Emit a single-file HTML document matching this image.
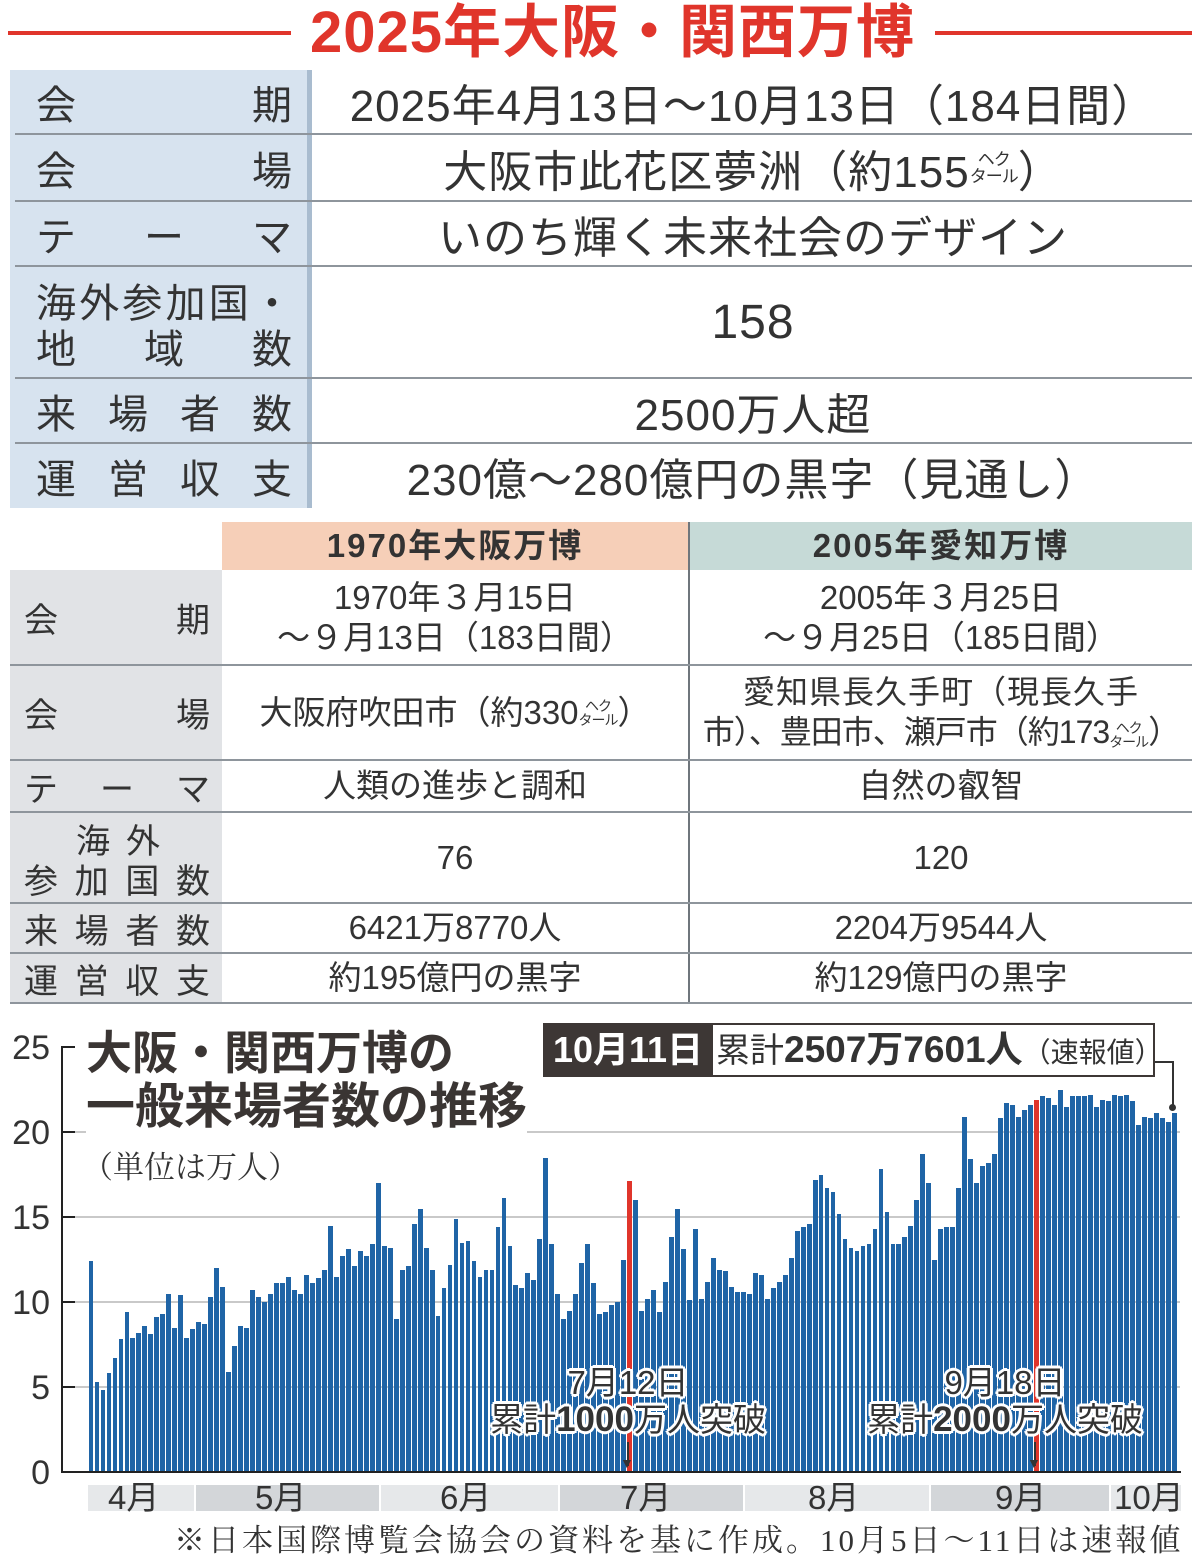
<!DOCTYPE html>
<html><head><meta charset="utf-8">
<style>
*{margin:0;padding:0;box-sizing:border-box}
body{width:1200px;height:1562px;position:relative;background:#fff;overflow:hidden;font-family:"Liberation Sans","Noto Sans CJK JP",sans-serif;color:#333}
.a{position:absolute}
.hl{position:absolute;height:2px;background:#8e959c}
.lab{position:absolute;display:flex;justify-content:space-between;align-items:center;font-size:40px;color:#333}
.val{position:absolute;text-align:center;font-size:44px;letter-spacing:1px;color:#333;display:flex;align-items:center;justify-content:center}
.lab2{position:absolute;display:flex;justify-content:space-between;align-items:center;font-size:34px;color:#333}
.v2{position:absolute;text-align:center;font-size:33px;color:#333;display:flex;align-items:center;justify-content:center;line-height:1.2}
.hec{display:inline-block;font-size:14px;line-height:1;vertical-align:middle;text-align:center;letter-spacing:-1px}
.bars{position:absolute;left:88px;top:1047px;width:1089px;height:425px;display:flex;align-items:flex-end}
.bars i{flex:1;margin:0 0.6px;background:#1f64a6;height:calc(var(--v)*17px);display:block}
.bars i.r{background:#e0352b}
.tk{position:absolute;left:0;width:50px;text-align:right;font-size:34px;color:#333;line-height:34px}
.ann{position:absolute;text-align:center;font-size:33px;color:#333;text-shadow:2px 0 0 #fff,-2px 0 0 #fff,0 2px 0 #fff,0 -2px 0 #fff,2px 2px 0 #fff,-2px -2px 0 #fff,2px -2px 0 #fff,-2px 2px 0 #fff,3px 0 0 #fff,-3px 0 0 #fff,0 3px 0 #fff,0 -3px 0 #fff;white-space:nowrap;line-height:1.1}
.mb{position:absolute;top:1485px;height:26px}
.ml{position:absolute;top:1478px;font-size:33px;color:#333;line-height:40px}
</style></head><body>

<div class="a" style="left:8px;top:31px;width:283px;height:4px;background:#e0352b"></div>
<div class="a" style="left:935px;top:31px;width:257px;height:4px;background:#e0352b"></div>
<div class="a" style="left:285px;top:0px;width:655px;text-align:center;font-size:58px;font-weight:bold;color:#e0352b;line-height:66px;letter-spacing:1px;white-space:nowrap">2025年大阪・関西万博</div>

<div class="a" style="left:10px;top:70px;width:300px;height:438px;background:#d7e3ef"></div>
<div class="a" style="left:307px;top:70px;width:5px;height:438px;background:#a9bccf"></div>
<div class="hl" style="left:15px;top:133px;width:1177px"></div>
<div class="hl" style="left:15px;top:200px;width:1177px"></div>
<div class="hl" style="left:15px;top:265px;width:1177px"></div>
<div class="hl" style="left:15px;top:377px;width:1177px"></div>
<div class="hl" style="left:15px;top:442px;width:1177px"></div>

<div class="lab" style="left:36px;top:70px;width:256px;height:64px"><span>会</span><span>期</span></div>
<div class="lab" style="left:36px;top:134px;width:256px;height:67px"><span>会</span><span>場</span></div>
<div class="lab" style="left:36px;top:201px;width:256px;height:65px"><span>テ</span><span>ー</span><span>マ</span></div>
<div class="lab" style="left:36px;top:278px;width:256px;height:44px"><span>海</span><span>外</span><span>参</span><span>加</span><span>国</span><span>・</span></div>
<div class="lab" style="left:36px;top:324px;width:256px;height:44px"><span>地</span><span>域</span><span>数</span></div>
<div class="lab" style="left:36px;top:378px;width:256px;height:65px"><span>来</span><span>場</span><span>者</span><span>数</span></div>
<div class="lab" style="left:36px;top:443px;width:256px;height:65px"><span>運</span><span>営</span><span>収</span><span>支</span></div>

<div class="val" style="left:314px;top:70px;width:878px;height:64px">2025年4月13日～10月13日（184日間）</div>
<div class="val" style="left:314px;top:134px;width:878px;height:67px">大阪市此花区夢洲（約155<span class="hec" style="font-size:17px">ヘク<br>タール</span>）</div>
<div class="val" style="left:314px;top:201px;width:878px;height:65px">いのち輝く未来社会のデザイン</div>
<div class="val" style="left:314px;top:266px;width:878px;height:112px;font-size:48px">158</div>
<div class="val" style="left:314px;top:378px;width:878px;height:65px">2500万人超</div>
<div class="val" style="left:314px;top:443px;width:878px;height:65px">230億～280億円の黒字（見通し）</div>

<div class="a" style="left:222px;top:522px;width:466px;height:48px;background:#f6cfb8"></div>
<div class="a" style="left:690px;top:522px;width:502px;height:48px;background:#c6dad7"></div>
<div class="a" style="left:222px;top:522px;width:466px;height:48px;text-align:center;font-size:33px;font-weight:bold;line-height:48px;letter-spacing:2px">1970年大阪万博</div>
<div class="a" style="left:690px;top:522px;width:502px;height:48px;text-align:center;font-size:33px;font-weight:bold;line-height:48px;letter-spacing:2px">2005年愛知万博</div>
<div class="a" style="left:10px;top:570px;width:212px;height:433px;background:#e1e3e6"></div>
<div class="a" style="left:688px;top:522px;width:2px;height:481px;background:#6f767c"></div>
<div class="hl" style="left:10px;top:664px;width:1182px"></div>
<div class="hl" style="left:10px;top:759px;width:1182px"></div>
<div class="hl" style="left:10px;top:811px;width:1182px"></div>
<div class="hl" style="left:10px;top:902px;width:1182px"></div>
<div class="hl" style="left:10px;top:952px;width:1182px"></div>
<div class="hl" style="left:10px;top:1002px;width:1182px"></div>

<div class="lab2" style="left:24px;top:570px;width:186px;height:95px"><span>会</span><span>期</span></div>
<div class="lab2" style="left:24px;top:665px;width:186px;height:95px"><span>会</span><span>場</span></div>
<div class="lab2" style="left:24px;top:760px;width:186px;height:52px"><span>テ</span><span>ー</span><span>マ</span></div>
<div class="lab2" style="left:76px;top:818px;width:84px;height:40px"><span>海</span><span>外</span></div>
<div class="lab2" style="left:24px;top:858px;width:186px;height:40px"><span>参</span><span>加</span><span>国</span><span>数</span></div>
<div class="lab2" style="left:24px;top:903px;width:186px;height:50px"><span>来</span><span>場</span><span>者</span><span>数</span></div>
<div class="lab2" style="left:24px;top:953px;width:186px;height:50px"><span>運</span><span>営</span><span>収</span><span>支</span></div>

<div class="v2" style="left:222px;top:572px;width:466px;height:92px">1970年３月15日<br>～９月13日（183日間）</div>
<div class="v2" style="left:222px;top:665px;width:466px;height:95px">大阪府吹田市（約330<span class="hec">ヘク<br>タール</span>）</div>
<div class="v2" style="left:222px;top:760px;width:466px;height:52px">人類の進歩と調和</div>
<div class="v2" style="left:222px;top:812px;width:466px;height:91px">76</div>
<div class="v2" style="left:222px;top:903px;width:466px;height:50px">6421万8770人</div>
<div class="v2" style="left:222px;top:953px;width:466px;height:50px">約195億円の黒字</div>

<div class="v2" style="left:690px;top:572px;width:502px;height:92px">2005年３月25日<br>～９月25日（185日間）</div>
<div class="a" style="left:690px;top:672px;width:502px;text-align:center;font-size:32px;line-height:40px;white-space:nowrap;letter-spacing:1px">愛知県長久手町（現長久手</div>
<div class="a" style="left:690px;top:712px;width:502px;text-align:center;font-size:32px;line-height:40px;white-space:nowrap;letter-spacing:-1px">市）、豊田市、瀬戸市（約173<span class="hec">ヘク<br>タール</span>）</div>
<div class="v2" style="left:690px;top:760px;width:502px;height:52px">自然の叡智</div>
<div class="v2" style="left:690px;top:812px;width:502px;height:91px">120</div>
<div class="v2" style="left:690px;top:903px;width:502px;height:50px">2204万9544人</div>
<div class="v2" style="left:690px;top:953px;width:502px;height:50px">約129億円の黒字</div>

<div class="a" style="left:62px;top:1131px;width:1118px;height:2px;background:#c9c9c9"></div>
<div class="a" style="left:62px;top:1216px;width:1118px;height:2px;background:#c9c9c9"></div>
<div class="a" style="left:62px;top:1301px;width:1118px;height:2px;background:#c9c9c9"></div>
<div class="a" style="left:62px;top:1386px;width:1118px;height:2px;background:#c9c9c9"></div>

<div class="bars">
<i style="--v:12.4"></i><i style="--v:5.3"></i><i style="--v:4.8"></i><i style="--v:5.8"></i><i style="--v:6.7"></i><i style="--v:7.8"></i><i style="--v:9.4"></i><i style="--v:7.9"></i><i style="--v:8.2"></i><i style="--v:8.6"></i>
<i style="--v:8.1"></i><i style="--v:9.1"></i><i style="--v:9.3"></i><i style="--v:10.5"></i><i style="--v:8.5"></i><i style="--v:10.4"></i><i style="--v:7.9"></i><i style="--v:8.4"></i><i style="--v:8.8"></i><i style="--v:8.7"></i>
<i style="--v:10.3"></i><i style="--v:12.0"></i><i style="--v:10.9"></i><i style="--v:5.9"></i><i style="--v:7.4"></i><i style="--v:8.6"></i><i style="--v:8.5"></i><i style="--v:10.7"></i><i style="--v:10.3"></i><i style="--v:10.0"></i>
<i style="--v:10.5"></i><i style="--v:11.1"></i><i style="--v:11.1"></i><i style="--v:11.5"></i><i style="--v:10.7"></i><i style="--v:10.5"></i><i style="--v:11.6"></i><i style="--v:11.1"></i><i style="--v:11.4"></i><i style="--v:11.9"></i>
<i style="--v:14.5"></i><i style="--v:11.5"></i><i style="--v:12.7"></i><i style="--v:13.1"></i><i style="--v:12.1"></i><i style="--v:13.0"></i><i style="--v:12.7"></i><i style="--v:13.4"></i><i style="--v:17.0"></i><i style="--v:13.3"></i>
<i style="--v:13.2"></i><i style="--v:9.0"></i><i style="--v:11.9"></i><i style="--v:12.1"></i><i style="--v:14.6"></i><i style="--v:15.5"></i><i style="--v:13.2"></i><i style="--v:11.9"></i><i style="--v:9.2"></i>
<i style="--v:10.8"></i><i style="--v:12.2"></i><i style="--v:14.9"></i><i style="--v:13.5"></i><i style="--v:13.6"></i><i style="--v:12.4"></i><i style="--v:11.5"></i><i style="--v:11.9"></i><i style="--v:11.9"></i><i style="--v:14.4"></i>
<i style="--v:16.1"></i><i style="--v:13.3"></i><i style="--v:11.0"></i><i style="--v:10.8"></i><i style="--v:11.7"></i><i style="--v:11.3"></i><i style="--v:13.7"></i><i style="--v:18.5"></i><i style="--v:13.4"></i><i style="--v:10.5"></i>
<i style="--v:9.0"></i><i style="--v:9.5"></i><i style="--v:10.5"></i><i style="--v:12.3"></i><i style="--v:13.4"></i><i style="--v:11.1"></i><i style="--v:9.3"></i><i style="--v:9.4"></i><i style="--v:9.8"></i><i style="--v:10.0"></i>
<i style="--v:12.5"></i><i class="r" style="--v:17.1"></i>
<i style="--v:16.0"></i><i style="--v:9.5"></i><i style="--v:10.2"></i><i style="--v:10.7"></i><i style="--v:9.4"></i><i style="--v:11.2"></i><i style="--v:13.8"></i><i style="--v:15.5"></i><i style="--v:13.1"></i><i style="--v:10.1"></i>
<i style="--v:14.3"></i><i style="--v:10.2"></i><i style="--v:11.2"></i><i style="--v:12.6"></i><i style="--v:11.9"></i><i style="--v:11.8"></i><i style="--v:10.9"></i><i style="--v:10.6"></i><i style="--v:10.6"></i><i style="--v:10.5"></i>
<i style="--v:11.7"></i><i style="--v:11.6"></i><i style="--v:10.2"></i><i style="--v:10.8"></i><i style="--v:11.2"></i><i style="--v:11.6"></i><i style="--v:12.6"></i><i style="--v:14.2"></i>
<i style="--v:14.4"></i><i style="--v:14.6"></i><i style="--v:17.2"></i><i style="--v:17.5"></i><i style="--v:16.7"></i><i style="--v:16.5"></i><i style="--v:15.2"></i><i style="--v:13.7"></i><i style="--v:13.2"></i><i style="--v:13.0"></i>
<i style="--v:13.3"></i><i style="--v:13.4"></i><i style="--v:14.3"></i><i style="--v:17.8"></i><i style="--v:15.3"></i><i style="--v:13.4"></i><i style="--v:13.4"></i><i style="--v:13.8"></i><i style="--v:14.5"></i><i style="--v:16.0"></i>
<i style="--v:18.7"></i><i style="--v:17.0"></i><i style="--v:12.5"></i><i style="--v:14.3"></i><i style="--v:14.4"></i><i style="--v:14.4"></i><i style="--v:16.7"></i><i style="--v:20.9"></i><i style="--v:18.4"></i><i style="--v:17.0"></i>
<i style="--v:18.0"></i><i style="--v:18.2"></i><i style="--v:18.7"></i><i style="--v:20.8"></i><i style="--v:21.7"></i><i style="--v:21.6"></i><i style="--v:20.9"></i><i style="--v:21.3"></i><i style="--v:21.6"></i><i class="r" style="--v:21.9"></i>
<i style="--v:22.1"></i><i style="--v:22.0"></i><i style="--v:21.6"></i><i style="--v:22.5"></i><i style="--v:21.5"></i><i style="--v:22.1"></i><i style="--v:22.1"></i><i style="--v:22.1"></i><i style="--v:22.2"></i><i style="--v:21.5"></i>
<i style="--v:21.9"></i><i style="--v:21.8"></i><i style="--v:22.2"></i><i style="--v:22.1"></i><i style="--v:22.2"></i><i style="--v:21.8"></i><i style="--v:20.4"></i><i style="--v:20.9"></i><i style="--v:20.8"></i><i style="--v:21.1"></i>
<i style="--v:20.8"></i><i style="--v:20.6"></i><i style="--v:21.1"></i>
</div>

<div class="a" style="left:61px;top:1047px;width:2px;height:426px;background:#222"></div>
<div class="a" style="left:61px;top:1471px;width:1120px;height:2px;background:#222"></div>
<div class="a" style="left:61px;top:1046px;width:14px;height:2px;background:#222"></div>
<div class="a" style="left:61px;top:1131px;width:14px;height:2px;background:#222"></div>
<div class="a" style="left:61px;top:1216px;width:14px;height:2px;background:#222"></div>
<div class="a" style="left:61px;top:1301px;width:14px;height:2px;background:#222"></div>
<div class="a" style="left:61px;top:1386px;width:14px;height:2px;background:#222"></div>

<div class="tk" style="top:1031px">25</div>
<div class="tk" style="top:1116px">20</div>
<div class="tk" style="top:1201px">15</div>
<div class="tk" style="top:1286px">10</div>
<div class="tk" style="top:1371px">5</div>
<div class="tk" style="top:1456px">0</div>

<div class="a" style="left:86px;top:1026px;font-size:46px;font-weight:bold;line-height:54px;color:#3a3533;background:#fff">大阪・関西万博の</div>
<div class="a" style="left:86px;top:1080px;font-size:49px;font-weight:bold;line-height:54px;color:#3a3533;background:#fff">一般来場者数の推移</div>
<div class="a" style="left:82px;top:1148px;font-size:31px;line-height:40px;font-family:'Liberation Serif','Noto Serif CJK JP','Noto Serif CJK SC',serif;color:#333">（単位は万人）</div>

<div class="a" style="left:543px;top:1023px;width:612px;height:54px;border:2px solid #3d3735;background:#fff"></div>
<div class="a" style="left:543px;top:1023px;width:170px;height:54px;background:#3d3735;color:#fff;font-size:36px;font-weight:bold;line-height:54px;text-align:center">10月11日</div>
<div class="a" style="left:716px;top:1023px;width:439px;height:54px;font-size:34px;line-height:54px;text-align:center;color:#333;white-space:nowrap">累計<b style="font-size:37px">2507万7601人</b><span style="font-size:28px">（速報値）</span></div>
<div class="a" style="left:1155px;top:1061px;width:19px;height:2px;background:#333"></div>
<div class="a" style="left:1172px;top:1061px;width:2px;height:47px;background:#333"></div>
<div class="a" style="left:1169px;top:1104px;width:7px;height:7px;border-radius:50%;background:#333"></div>

<div class="ann" style="left:478px;top:1365px;width:300px">7月12日<br>累計<b style="font-size:35px">1000</b>万人突破</div>
<div class="a" style="left:627px;top:1442px;width:2px;height:24px;background:#333"></div>
<div class="a" style="left:620px;top:1456px;font-size:14px;line-height:14px;color:#333">▼</div>
<div class="ann" style="left:855px;top:1365px;width:300px">9月18日<br>累計<b style="font-size:35px">2000</b>万人突破</div>
<div class="a" style="left:1034px;top:1442px;width:2px;height:24px;background:#333"></div>
<div class="a" style="left:1027px;top:1456px;font-size:14px;line-height:14px;color:#333">▼</div>

<div class="mb" style="left:88px;width:106px;background:#e6e8ea"></div>
<div class="mb" style="left:196px;width:183px;background:#d3d6d9"></div>
<div class="mb" style="left:381px;width:177px;background:#e6e8ea"></div>
<div class="mb" style="left:560px;width:183px;background:#d3d6d9"></div>
<div class="mb" style="left:745px;width:184px;background:#e6e8ea"></div>
<div class="mb" style="left:931px;width:178px;background:#d3d6d9"></div>
<div class="mb" style="left:1111px;width:70px;background:#e6e8ea"></div>
<div class="ml" style="left:108px">4月</div>
<div class="ml" style="left:255px">5月</div>
<div class="ml" style="left:440px">6月</div>
<div class="ml" style="left:620px">7月</div>
<div class="ml" style="left:808px">8月</div>
<div class="ml" style="left:995px">9月</div>
<div class="ml" style="left:1114px">10月</div>

<div class="a" style="left:174px;top:1522px;font-size:31px;line-height:38px;letter-spacing:3px;font-family:'Liberation Serif','Noto Serif CJK JP','Noto Serif CJK SC',serif;color:#333;white-space:nowrap">※日本国際博覧会協会の資料を基に作成。10月5日～11日は速報値</div>

</body></html>
